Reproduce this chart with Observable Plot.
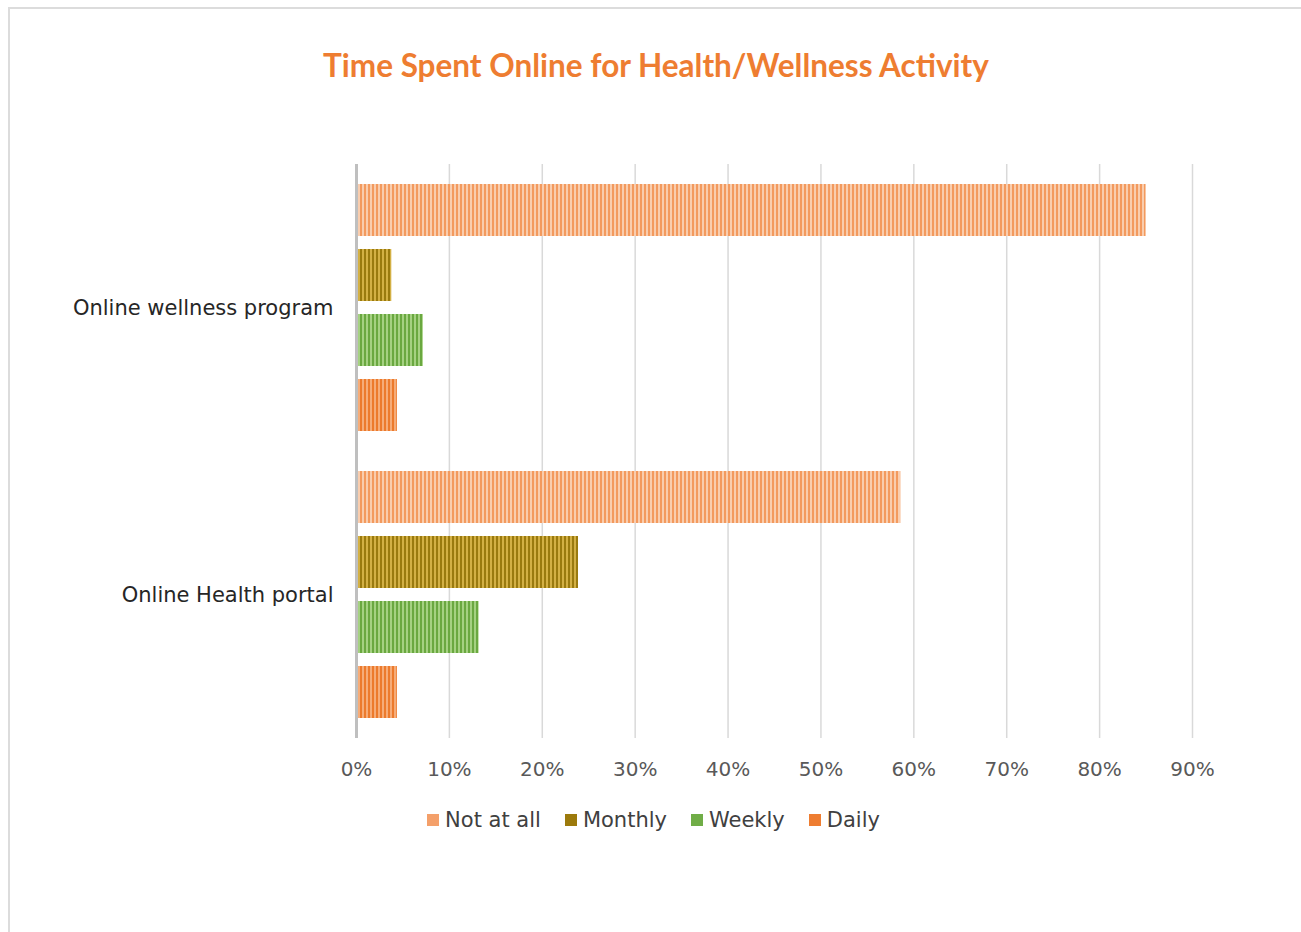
<!DOCTYPE html>
<html>
<head>
<meta charset="utf-8">
<script src="https://cdn.jsdelivr.net/npm/d3@7"></script>
<script src="https://cdn.jsdelivr.net/npm/@observablehq/plot@0.6"></script>
<style>
  html, body { margin: 0; padding: 0; background: #fff; }
  #page { position: relative; width: 1301px; height: 932px; overflow: hidden; }
  #frame { position: absolute; left: 8px; top: 7px; width: 1400px; height: 1000px;
           border-top: 2px solid #dcdcdc; border-left: 2px solid #dcdcdc; }
  #title { position: absolute; left: 0; width: 1312px; top: 46px; text-align: center;
           font-family: Lato, "Open Sans", sans-serif; font-weight: 700; font-size: 31.5px; color: #ee7d31; }
  #chart { position: absolute; left: 0; top: 100px; }
  #legend { position: absolute; left: 0; width: 1307px; top: 808px; display: flex; justify-content: center;
            font-family: "DejaVu Sans", sans-serif; font-size: 21px; color: #404040; }
  .item { display: flex; align-items: center; margin: 0 12px; }
  .sw { width: 12px; height: 12px; margin-right: 6px; }
</style>
</head>
<body>
<div id="page">
  <div id="frame"></div>
  <div id="title"></div>
  <div id="chart"></div>
  <div id="legend"></div>
</div>
<script>
const titleText = "Time Spent Online for Health/Wellness Activity";
const categories = ["Online wellness program", "Online Health portal"];
const series = ["Not at all", "Monthly", "Weekly", "Daily"];
const wellnessValues = [0.85, 0.038, 0.072, 0.044];
const portalValues = [0.586, 0.239, 0.132, 0.044];
const tickValues = [0, 0.1, 0.2, 0.3, 0.4, 0.5, 0.6, 0.7, 0.8, 0.9];

// colors: [stripe, background, legend swatch]
const seriesColors = {
  "Not at all": ["#f39a5e", "#f9cdae", "#f4a06a"],
  "Monthly": ["#9a7a0e", "#d3b044", "#9c7a0c"],
  "Weekly": ["#6aa840", "#a5d182", "#70ad47"],
  "Daily": ["#ec7a2c", "#f6ac78", "#ee7d31"]
};

const data = [];
categories.forEach((c, i) => {
  const vals = i === 0 ? wellnessValues : portalValues;
  series.forEach((s, j) => data.push({category: c, series: s, value: vals[j]}));
});

document.getElementById("title").textContent = titleText;

const patternIds = series.map((s, i) => "pat" + i);

const chart = Plot.plot({
  width: 1301,
  height: 700,
  marginTop: 64,
  marginBottom: 62,
  marginLeft: 356,
  marginRight: 109,
  style: {fontFamily: "DejaVu Sans, sans-serif", fontSize: "20px", background: "transparent"},
  x: {domain: [0, 0.9]},
  y: {domain: series, axis: null, paddingInner: 0.2, paddingOuter: 0.28},
  fy: {domain: categories, padding: 0, axis: null},
  color: {domain: series, range: patternIds.map(id => `url(#${id})`)},
  marks: [
    Plot.gridX(tickValues, {stroke: "#d9d9d9", strokeOpacity: 1, strokeWidth: 1.5}),
    Plot.barX(data, {x: "value", y: "series", fy: "category", fill: "series"}),
    Plot.ruleX([0], {stroke: "#bfbfbf", strokeWidth: 3}),
    Plot.axisX({ticks: tickValues, tickFormat: d => Math.round(d * 100) + "%", tickSize: 0, tickPadding: 23,
                label: null, fill: "#595959", fontSize: 20}),
    Plot.axisFy({anchor: "left", tickSize: 0, tickPadding: 23, label: null, fill: "#262626", fontSize: 21})
  ]
});

// add stripe patterns
const ns = "http://www.w3.org/2000/svg";
const defs = document.createElementNS(ns, "defs");
series.forEach((s, i) => {
  const [stripe, bg] = seriesColors[s];
  const p = document.createElementNS(ns, "pattern");
  p.setAttribute("id", patternIds[i]);
  p.setAttribute("patternUnits", "userSpaceOnUse");
  p.setAttribute("width", "4");
  p.setAttribute("height", "10");
  const r1 = document.createElementNS(ns, "rect");
  r1.setAttribute("width", "4"); r1.setAttribute("height", "10"); r1.setAttribute("fill", bg);
  const r2 = document.createElementNS(ns, "rect");
  r2.setAttribute("width", "2"); r2.setAttribute("height", "10"); r2.setAttribute("fill", stripe);
  p.appendChild(r1); p.appendChild(r2);
  defs.appendChild(p);
});
chart.insertBefore(defs, chart.firstChild);
document.getElementById("chart").appendChild(chart);

// legend
const legend = document.getElementById("legend");
series.forEach(s => {
  const item = document.createElement("div");
  item.className = "item";
  const sw = document.createElement("div");
  sw.className = "sw";
  sw.style.background = seriesColors[s][2];
  const t = document.createElement("span");
  t.textContent = s;
  item.appendChild(sw); item.appendChild(t);
  legend.appendChild(item);
});
</script>
</body>
</html>
